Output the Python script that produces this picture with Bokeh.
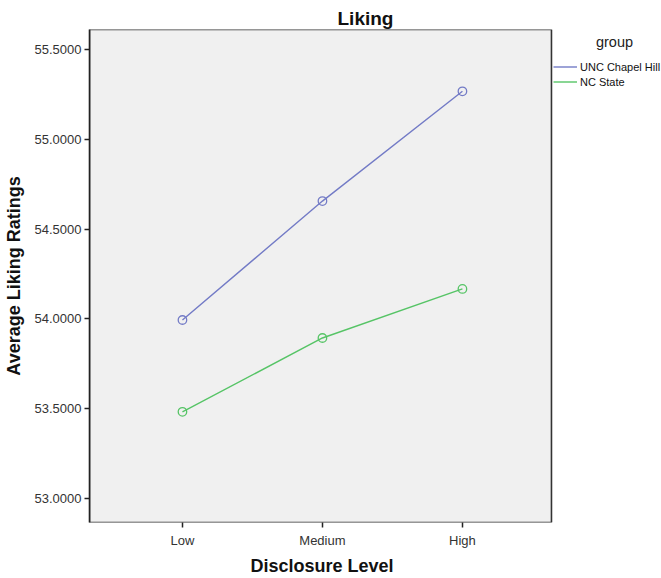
from bokeh.plotting import figure
from bokeh.models import (Legend, LegendItem, Label, FixedTicker, Range1d,
                          NumeralTickFormatter, BoxAnnotation, Title)
from bokeh.embed import file_html
from bokeh.resources import INLINE

levels = ["Low", "Medium", "High"]
x_pos = [0, 1, 2]
unc_chapel_hill = [53.994, 54.656, 55.267]
nc_state = [53.483, 53.894, 54.167]
y_ticks = [53.0, 53.5, 54.0, 54.5, 55.0, 55.5]
series_names = ["UNC Chapel Hill", "NC State"]
colors = ["#737bc6", "#56c466"]

# plot-area extent in data units (gray box); figure extends to the right for the legend
x_lo, x_hi = -0.664, 2.636
y_lo, y_hi = 52.867, 55.611

FONT = "Liberation Sans"

p = figure(frame_width=572, frame_height=493,
           min_border_left=89, min_border_right=0, min_border_top=29, min_border_bottom=56,
           output_backend="svg", toolbar_location=None,
           x_range=Range1d(x_lo, 3.422), y_range=Range1d(y_lo, y_hi))

p.background_fill_color = "white"
p.border_fill_color = "white"
p.outline_line_color = None
p.xgrid.visible = False
p.ygrid.visible = False

p.add_layout(BoxAnnotation(left=x_lo, right=x_hi, bottom=y_lo, top=y_hi,
                           fill_color="#f0f0f0", fill_alpha=1,
                           line_color="#333333", line_alpha=1, line_width=1.6,
                           level="underlay"))

p.title.text = "Liking"
p.title.align = "left"
p.title.offset = 248
p.title.text_font = FONT
p.title.text_font_size = "19px"
p.title.text_font_style = "bold"
p.title.text_color = "#111111"
p.title.standoff = 2

renderers = []
for vals, col in zip([unc_chapel_hill, nc_state], colors):
    l = p.line(x_pos, vals, line_color=col, line_width=1.4)
    c = p.scatter(x_pos, vals, marker="circle", size=8.5, fill_alpha=0,
                  line_color=col, line_width=1.3)
    renderers.append((l, c))

# axes
p.xaxis.ticker = FixedTicker(ticks=x_pos)
p.xaxis.major_label_overrides = {i: lab for i, lab in zip(x_pos, levels)}
p.yaxis.ticker = FixedTicker(ticks=y_ticks)
p.yaxis.formatter = NumeralTickFormatter(format="0.0000")
for ax in (p.xaxis[0], p.yaxis[0]):
    ax.axis_line_color = "#222222"
    ax.axis_line_width = 1.6
    ax.major_tick_in = 0
    ax.major_tick_out = 5
    ax.major_tick_line_color = "#222222"
    ax.major_tick_line_width = 1.5
    ax.minor_tick_line_color = None
    ax.major_label_text_font = FONT
    ax.major_label_text_font_size = "13px"
    ax.major_label_text_color = "#333333"
    ax.axis_label_text_font = FONT
    ax.axis_label_text_font_size = "18px"
    ax.axis_label_text_font_style = "bold"
    ax.axis_label_text_color = "#111111"

p.xaxis.axis_line_color = None
p.xaxis.major_label_standoff = 5
p.yaxis.axis_label = "Average Liking Ratings"
p.yaxis.axis_label_standoff = 8
p.yaxis.major_label_standoff = 3

p.add_layout(Title(text="Disclosure Level", align="left", offset=161,
                   text_font=FONT, text_font_size="18px", text_font_style="bold",
                   text_color="#111111", standoff=7), "below")

legend = Legend(items=[LegendItem(label=n, renderers=[r[0]]) for n, r in zip(series_names, renderers)],
                location=(464, 433), orientation="vertical",
                border_line_color=None, background_fill_alpha=0,
                padding=0, margin=0, spacing=0,
                glyph_width=24, glyph_height=15, label_height=15, label_standoff=3,
                label_text_font=FONT, label_text_font_size="11px", label_text_color="#111111")
p.add_layout(legend, "center")

p.add_layout(Label(x=525, y=481, x_units="screen", y_units="screen", text="group",
                   text_align="center", text_baseline="middle",
                   text_font=FONT, text_font_size="14.5px", text_color="#222222"))

open("out.html", "w").write(file_html(p, INLINE))
